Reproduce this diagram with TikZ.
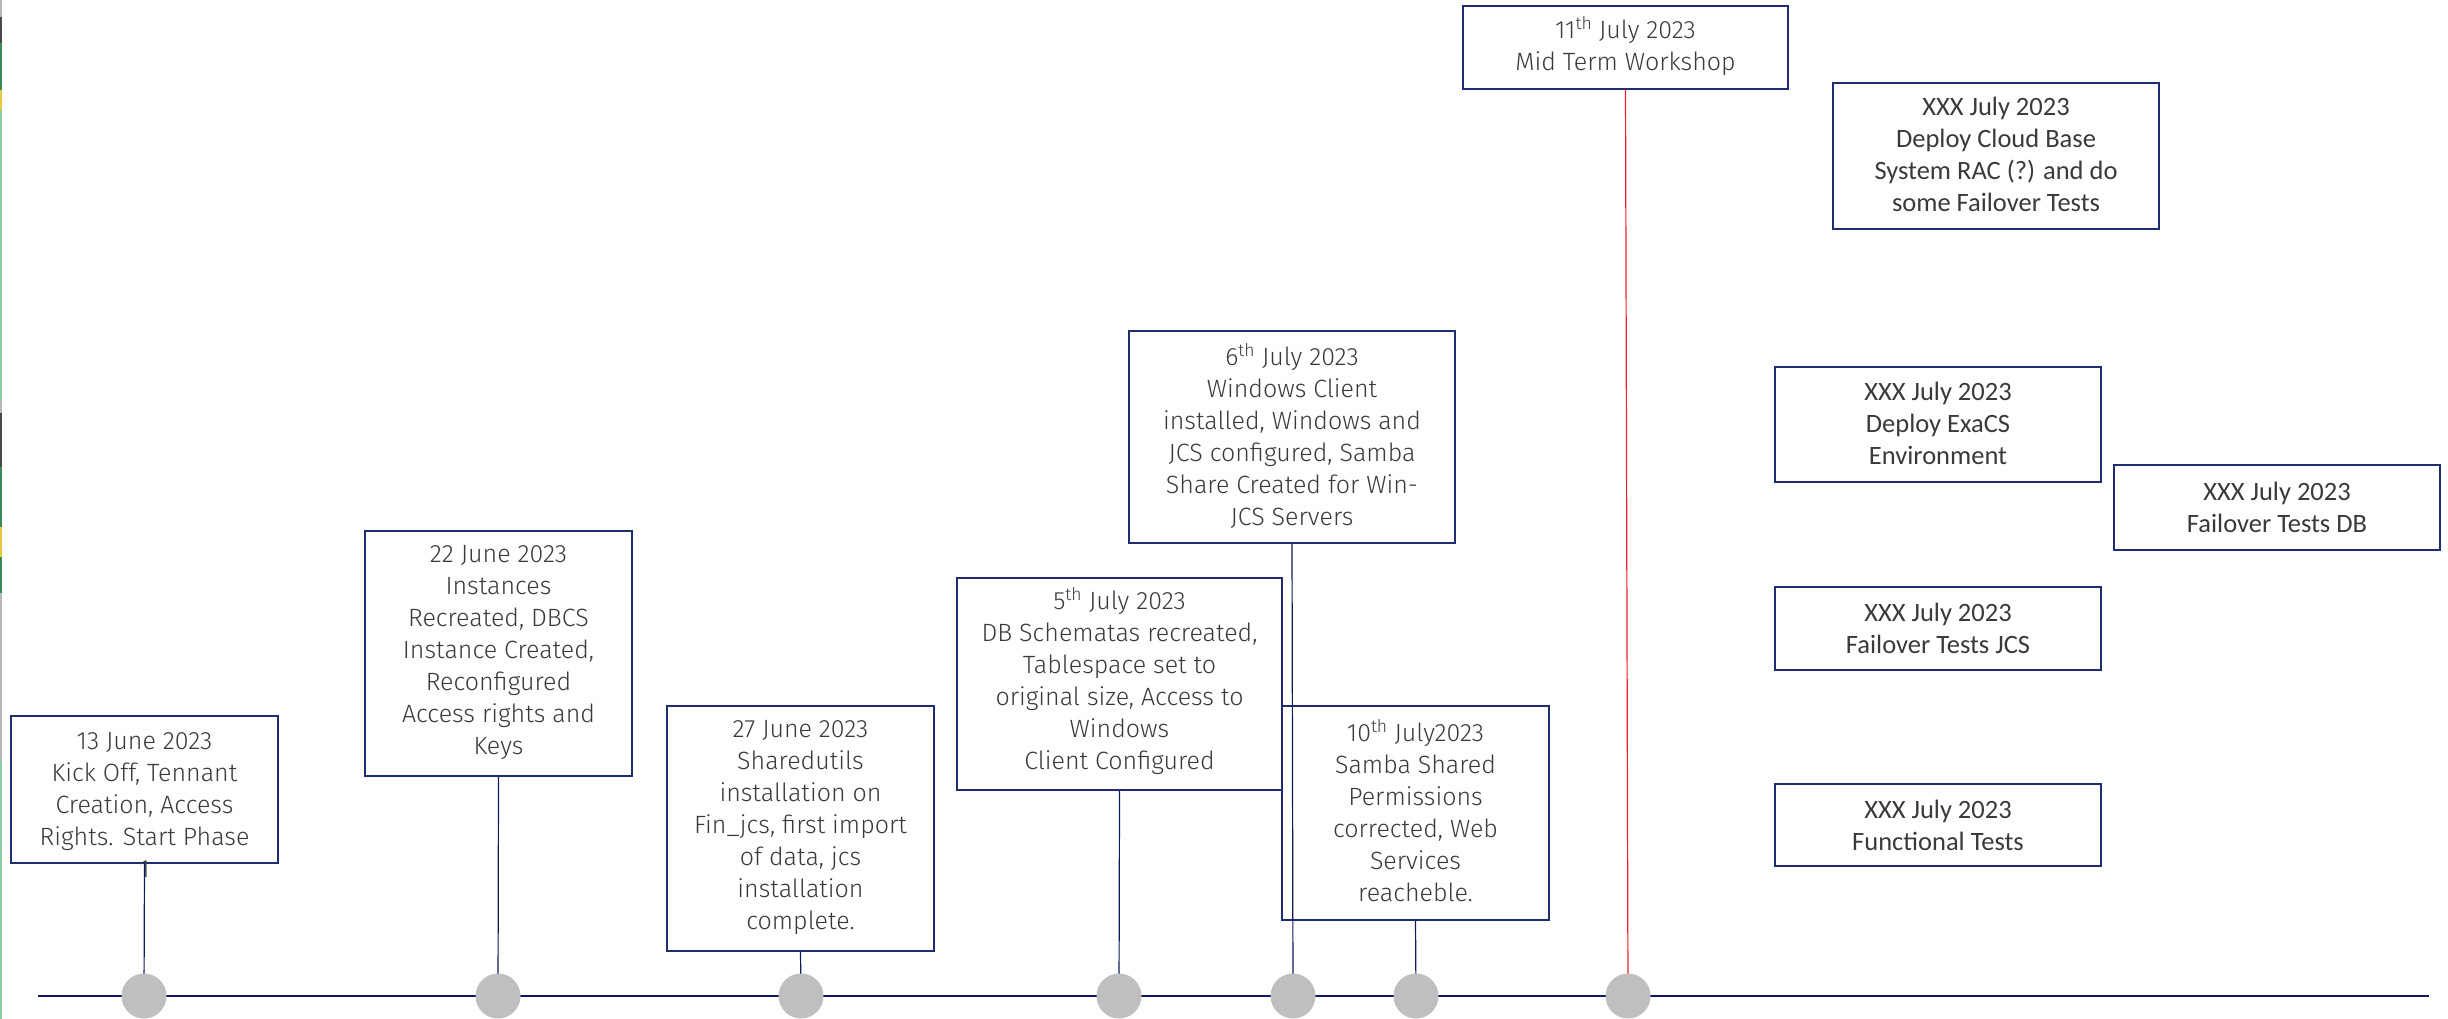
\documentclass[tikz,border=0pt]{standalone}
\usepackage{fontspec}
\setmainfont{Fira Sans Light}
\newfontfamily\calib{Carlito}
\definecolor{navy}{HTML}{1F2D70}
\definecolor{deepnavy}{HTML}{0E1A5C}
\definecolor{dotgray}{HTML}{BFBFBF}
\definecolor{ink}{HTML}{3A3A3A}
\definecolor{redline}{HTML}{F0202A}
\definecolor{edgegreen}{HTML}{8CCBA3}
\definecolor{edgedark}{HTML}{4A4A4A}
\definecolor{edgeforest}{HTML}{3E8A5A}
\definecolor{edgeyellow}{HTML}{E8C840}
\definecolor{edgegray}{HTML}{B8B8B8}

\tikzset{
  evbox/.style={draw=navy, line width=1.4pt, fill=white, inner sep=0pt},
  evtext/.style={text=ink, align=center, inner sep=0pt, font=\fontsize{25}{32}\selectfont},
  xxtext/.style={text=ink, align=center, inner sep=0pt, font=\calib\fontsize{26.5}{32}\selectfont},
  stem/.style={draw=deepnavy, line width=1.2pt},
  redstem/.style={draw=redline, line width=1.2pt},
  dot/.style={circle, fill=dotgray, draw=none, minimum size=45pt, inner sep=0pt},
  axis/.style={draw=deepnavy, line width=2.2pt},
}

\begin{document}
\begin{tikzpicture}[x=1pt, y=-1pt]
\useasboundingbox (0,0) rectangle (2448,1019);

% coloured strip along the left edge
\fill[edgegray]   (0,0)   rectangle (2,17);
\fill[edgedark]   (0,17)  rectangle (2,43);
\fill[edgeforest] (0,43)  rectangle (2,90);
\fill[edgeyellow] (0,90)  rectangle (2,110);
\fill[edgegreen]  (0,110) rectangle (2,400);
\fill[edgegray]   (0,400) rectangle (2,413);
\fill[edgedark]   (0,413) rectangle (2,467);
\fill[edgeforest] (0,467) rectangle (2,527);
\fill[edgeyellow] (0,527) rectangle (2,557);
\fill[edgeforest] (0,557) rectangle (2,593);
\fill[edgegray]   (0,593) rectangle (2,760);
\fill[edgegreen]  (0,760) rectangle (2,1019);

% time axis
\coordinate (axL) at (38,996);
\coordinate (axR) at (2429,996);
\draw[axis] (axL) -- (axR);

% event boxes
\node[evbox, minimum width=267pt, minimum height=147pt] (bA) at (144.5,789.5) {};
\node[evbox, minimum width=267pt, minimum height=245pt] (bB) at (498.5,653.5) {};
\node[evbox, minimum width=267pt, minimum height=245pt] (bC) at (800.5,828.5) {};
\node[evbox, minimum width=325pt, minimum height=212pt] (bD) at (1119.5,684) {};
\node[evbox, minimum width=326pt, minimum height=212pt] (bE) at (1292,437) {};
\node[evbox, minimum width=267pt, minimum height=214pt] (bF) at (1415.5,813) {};
\node[evbox, minimum width=325pt, minimum height=83pt]  (bG) at (1625.5,47.5) {};
\node[evbox, minimum width=326pt, minimum height=146pt] (bH) at (1996,156) {};
\node[evbox, minimum width=326pt, minimum height=115pt] (bI) at (1938,424.5) {};
\node[evbox, minimum width=326pt, minimum height=85pt]  (bJ) at (2277,507.5) {};
\node[evbox, minimum width=326pt, minimum height=83pt]  (bK) at (1938,628.5) {};
\node[evbox, minimum width=326pt, minimum height=82pt]  (bL) at (1938,825) {};

% milestone points on the axis
\coordinate (pA) at (144,996);
\coordinate (pB) at (498,996);
\coordinate (pC) at (801,996);
\coordinate (pD) at (1119,996);
\coordinate (pE) at (1293,996);
\coordinate (pF) at (1416,996);
\coordinate (pG) at (1628,996);

% stems from the boxes down to the axis
\draw[stem] (bA.south) -- (pA);
\draw[stem] (bB.south) -- (pB);
\draw[stem] (bC.south) -- (pC);
\draw[stem] (bD.south) -- (pD);
\draw[stem] (bE.south) -- (pE);
\draw[stem] (bF.south) -- (pF);
\draw[redstem] (bG.south) -- (pG);

% texts
\node[evtext] (tA) at (144.5,805) {13 June 2023\\Kick Off, Tennant\\Creation, Access\\Rights. Start Phase\\1};
\node[evtext] (tB) at (498.5,652) {22 June 2023\\Instances\\Recreated, DBCS\\Instance Created,\\Reconfigured\\Access rights and\\Keys};
\node[evtext] (tC) at (800.5,827.5) {27 June 2023\\Sharedutils\\installation on\\Fin\_jcs, first import\\of data, jcs\\installation\\complete.};
\node[evtext] (tD) at (1119.5,681.5) {5\textsuperscript{th} July 2023\\DB Schematas recreated,\\Tablespace set to\\original size, Access to\\Windows\\Client Configured};
\node[evtext] (tE) at (1292,435.5) {6\textsuperscript{th} July 2023\\Windows Client\\installed, Windows and\\JCS configured, Samba\\Share Created for Win-\\JCS Servers};
\node[evtext] (tF) at (1415.5,811) {10\textsuperscript{th} July2023\\Samba Shared\\Permissions\\corrected, Web\\Services\\reacheble.};
\node[evtext] (tG) at (1625.5,46) {11\textsuperscript{th} July 2023\\Mid Term Workshop};
\node[xxtext] (tH) at (1996,154.5) {XXX July 2023\\Deploy Cloud Base\\System RAC (?) and do\\some Failover Tests};
\node[xxtext] (tI) at (1938,423) {XXX July 2023\\Deploy ExaCS\\Environment};
\node[xxtext] (tJ) at (2277,507) {XXX July 2023\\Failover Tests DB};
\node[xxtext] (tK) at (1938,628) {XXX July 2023\\Failover Tests JCS};
\node[xxtext] (tL) at (1938,825) {XXX July 2023\\Functional Tests};

% milestone dots
\node[dot] (dA) at (pA) {};
\node[dot] (dB) at (pB) {};
\node[dot] (dC) at (pC) {};
\node[dot] (dD) at (pD) {};
\node[dot] (dE) at (pE) {};
\node[dot] (dF) at (pF) {};
\node[dot] (dG) at (pG) {};
\end{tikzpicture}
\end{document}
